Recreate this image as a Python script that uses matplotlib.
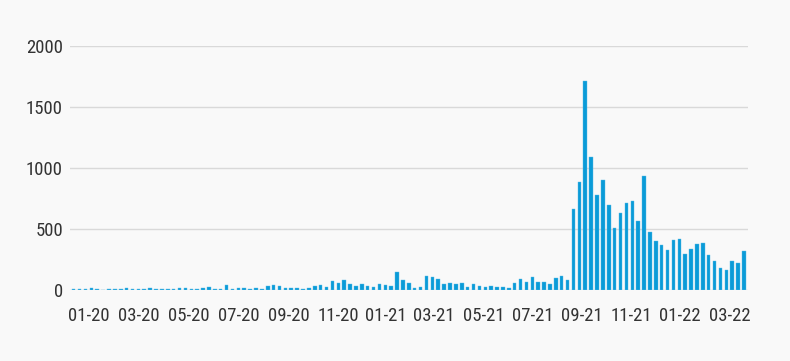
import matplotlib
matplotlib.use('Agg')
import matplotlib.pyplot as plt
import numpy as np

# weekly values, Jan 2020 - Mar 2022
valores = [
    12, 10, 10, 14, 5, 3, 8, 12, 10, 15,
    8, 6, 10, 15, 8, 10, 12, 8, 20, 15,
    10, 8, 15, 25, 10, 12, 40, 10, 15, 20,
    10, 15, 10, 30, 40, 30, 20, 18, 15, 10,
    20, 30, 41, 27, 74, 60, 82, 49, 36, 46,
    33, 22, 49, 38, 36, 148, 79, 57, 19, 22,
    118, 104, 90, 46, 60, 49, 60, 27, 49, 36,
    27, 30, 27, 27, 19, 55, 87, 68, 107, 63,
    63, 46, 98, 112, 79, 661, 888, 1716, 1093, 779,
    902, 699, 505, 634, 716, 732, 568, 937, 478, 404,
    366, 331, 407, 418, 292, 333, 377, 383, 287, 238,
    178, 164, 235, 224, 322,
]

# tick labels (month-year) and where they fall on the week index
rotulos = ['01-20', '03-20', '05-20', '07-20', '09-20', '11-20', '01-21',
           '03-21', '05-21', '07-21', '09-21', '11-21', '01-22', '03-22']
pos_rotulos = [2.6, 11.1, 19.5, 28.1, 36.6, 45.0, 53.0,
               61.2, 69.8, 78.0, 86.5, 94.9, 103.1, 111.6]

y_ticks = [0, 500, 1000, 1500, 2000]

fundo = '#f9f9f9'
azul = '#0a9bd8'

plt.rcParams['font.family'] = ['Roboto Condensed', 'Liberation Sans Narrow', 'DejaVu Sans']
plt.rcParams['font.stretch'] = 'condensed'

fig = plt.figure(figsize=(7.9, 3.61), dpi=100, facecolor=fundo)
ax = fig.add_axes([70 / 790, 71 / 361, 678 / 790, 244 / 361])
ax.set_facecolor(fundo)

x = np.arange(len(valores))
ax.bar(x, valores, width=0.6, color=azul, edgecolor='#5bbbe6', linewidth=0.3, zorder=3)

ax.set_xlim(-0.63, len(valores) - 1 + 0.68)
ax.set_ylim(0, 2000)
ax.set_yticks(y_ticks)
ax.set_xticks(pos_rotulos)
ax.set_xticklabels(rotulos)

ax.grid(axis='y', color='#d9d9d9', linewidth=1.0, zorder=0)
ax.grid(axis='x', visible=False)
for s in ax.spines.values():
    s.set_visible(False)

ax.tick_params(axis='both', length=0, labelsize=13.5, labelcolor='#333333')
ax.tick_params(axis='x', pad=12)
ax.tick_params(axis='y', pad=5)

plt.savefig('out.png', dpi=100, facecolor=fundo)
